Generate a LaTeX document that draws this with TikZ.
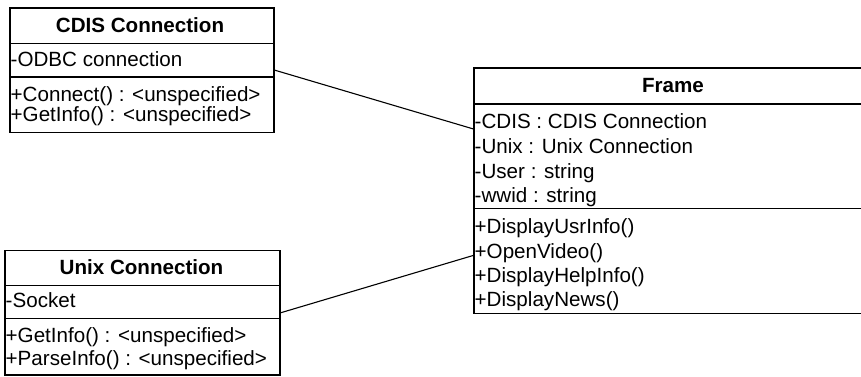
\documentclass[tikz,border=0pt]{standalone}
\usepackage{fontspec}
\setmainfont{Liberation Sans}
\usetikzlibrary{calc}
\begin{document}
\begin{tikzpicture}[x=1pt,y=-1pt,
  classbox/.style={draw, line width=1.9pt, inner sep=0pt, anchor=north west, fill=white},
  sepline/.style={line width=1.9pt},
  assoc/.style={line width=1.1pt},
  txt/.style={anchor=base west, inner sep=0pt, font=\fontsize{20.6}{24}\selectfont},
  ttl/.style={anchor=base, inner sep=0pt, font=\fontsize{20.6}{24}\selectfont\bfseries}]
\useasboundingbox (0,0) rectangle (861,376);
% boxes
\node[classbox, minimum width=264pt, minimum height=124.5pt] (cdis) at (9,7) {};
\node[classbox, minimum width=400pt, minimum height=245.5pt] (frame) at (473,67) {};
\node[classbox, minimum width=275pt, minimum height=124.5pt] (unix) at (4,249.5) {};
% compartments
\draw[sepline] (cdis.west |- 0,43.5) -- (cdis.east |- 0,43.5);
\draw[sepline] (cdis.west |- 0,77) -- (cdis.east |- 0,77);
\draw[sepline] (frame.west |- 0,104) -- (frame.east |- 0,104);
\draw[sepline] (frame.west |- 0,208.5) -- (frame.east |- 0,208.5);
\draw[sepline] (unix.west |- 0,285.5) -- (unix.east |- 0,285.5);
\draw[sepline] (unix.west |- 0,318.5) -- (unix.east |- 0,318.5);
% CDIS text
\node[ttl] (cdisT) at (140,32) {CDIS Connection};
\node[txt] (cdisA1) at (10.5,66.5) {-ODBC connection};
\node[txt] (cdisM1) at (10.5,101.5) {+Connect() : <unspecified>};
\node[txt] (cdisM2) at (10.5,121.5) {+GetInfo() : <unspecified>};
% Frame text
\node[ttl] (frameT) at (673,92) {Frame};
\node[txt] (frameA1) at (474.5,128) {-CDIS : CDIS Connection};
\node[txt] (frameA2) at (474.5,153) {-Unix : Unix Connection};
\node[txt] (frameA3) at (474.5,178) {-User : string};
\node[txt] (frameA4) at (474.5,202) {-wwid : string};
\node[txt] (frameM1) at (474.5,233) {+DisplayUsrInfo()};
\node[txt] (frameM2) at (474.5,258) {+OpenVideo()};
\node[txt] (frameM3) at (474.5,282) {+DisplayHelpInfo()};
\node[txt] (frameM4) at (474.5,306.5) {+DisplayNews()};
% Unix text
\node[ttl] (unixT) at (141.5,274.5) {Unix Connection};
\node[txt] (unixA1) at (5.5,307) {-Socket};
\node[txt] (unixM1) at (5.5,342.5) {+GetInfo() : <unspecified>};
\node[txt] (unixM2) at (5.5,365) {+ParseInfo() : <unspecified>};
% associations
\draw[assoc] (cdis.east) -- ($(frame.north west)!0.25!(frame.south west)$);
\draw[assoc] (unix.east) -- ($(frame.north west)!0.762!(frame.south west)$);
\end{tikzpicture}
\end{document}
